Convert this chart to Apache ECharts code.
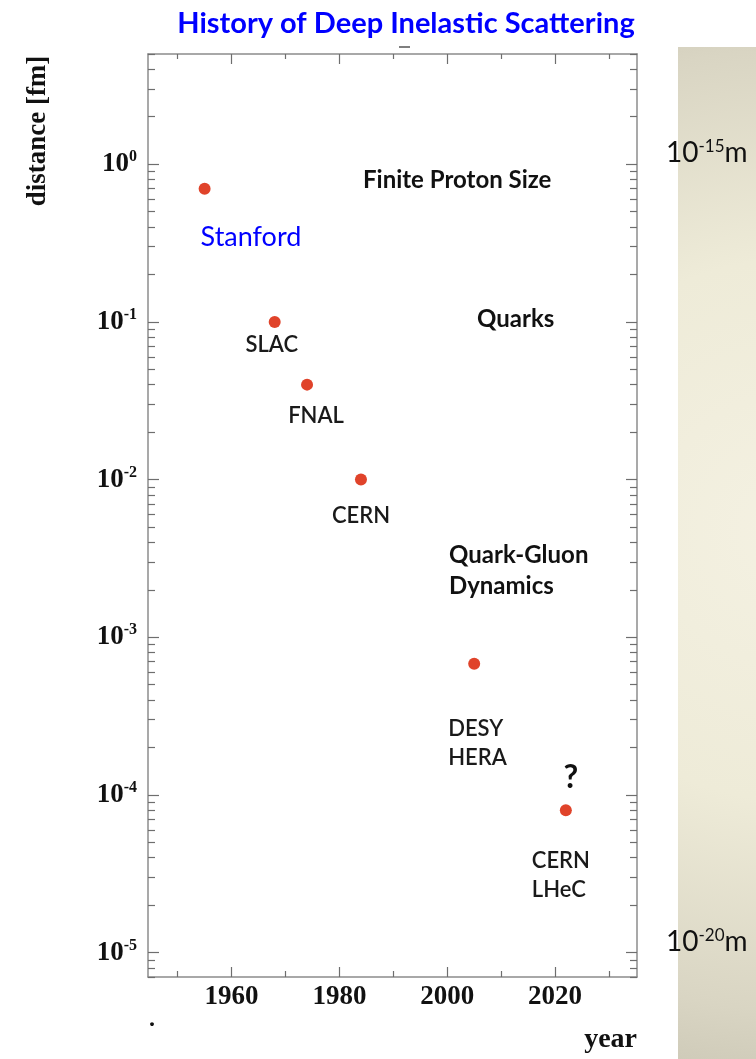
<!DOCTYPE html>
<html><head><meta charset="utf-8">
<script src="https://cdn.jsdelivr.net/npm/echarts@6/dist/echarts.min.js"></script>
<style>html,body{margin:0;padding:0;background:#fff;}#c{width:756px;height:1059px;}</style>
</head><body><div id="c"></div>
<script>
// ---- data ----
const labNames   = ['Stanford', 'SLAC', 'FNAL', 'CERN', 'DESY\nHERA', 'CERN\nLHeC'];
const years      = [1955, 1968, 1974, 1984, 2005, 2022];
const distances  = [0.7, 0.1, 0.04, 0.01, 6.8e-4, 8e-5];
const xMajorTicks = [1960, 1980, 2000, 2020];
const xMinorTicks = [1950, 1970, 1990, 2010, 2030];
const yDecades    = [1e-5, 1e-4, 1e-3, 1e-2, 1e-1, 1];
const yMinorTicks = [];
[1e-6, 1e-5, 1e-4, 1e-3, 1e-2, 1e-1, 1].forEach(function (d) {
  [2, 3, 4, 5, 6, 7, 8, 9].forEach(function (m) {
    const v = m * d;
    if (v >= 7e-6 && v <= 5) yMinorTicks.push(v);
  });
});
const regionNotes = ['Finite Proton Size', 'Quarks', 'Quark-Gluon\nDynamics'];
const titleText = 'History of Deep Inelastic Scattering';

// ---- layout / style ----
const SERIF = '"Liberation Serif", "DejaVu Serif", serif';
const SANS = 'Lato, "Open Sans", sans-serif';
const X_MIN = 1944.5, X_MAX = 2035.2, Y_MIN = 7e-6, Y_MAX = 5;
const lineStyle = { color: '#8c8c8c', width: 1.5 };
const tickStyle = { color: '#6e6e6e', width: 1.2 };

// label placement per point: [dx, dy, align]
const labelLayout = [
  [-4, 49, 'left'],
  [-3, 23, 'center'],
  [9, 31, 'center'],
  [0, 36, 'center'],
  [-26, 80, 'left'],
  [-34, 65, 'left']
];

function xAxisDef(pos, ticks, len, main) {
  return {
    type: 'value', position: pos, min: X_MIN, max: X_MAX, gridIndex: 0,
    splitLine: { show: false },
    axisLine: { show: main, onZero: false, lineStyle: lineStyle },
    axisTick: { show: true, inside: true, length: len, customValues: ticks, lineStyle: tickStyle },
    axisLabel: (main && pos === 'bottom') ? {
      show: true, customValues: xMajorTicks, margin: 7,
      formatter: function (v) { return String(Math.round(v)); },
      fontFamily: SERIF, fontWeight: 'bold', fontSize: 27, color: '#111'
    } : { show: false }
  };
}
function yAxisDef(pos, ticks, len, main) {
  return {
    type: 'log', logBase: 10, position: pos, min: Y_MIN, max: Y_MAX, gridIndex: 0,
    splitLine: { show: false },
    axisLine: { show: main, onZero: false, lineStyle: lineStyle },
    axisTick: { show: true, inside: true, length: len, customValues: ticks, lineStyle: tickStyle },
    axisLabel: (main && pos === 'left') ? {
      show: true, customValues: yDecades, margin: 11,
      formatter: function (v) { return '{b|10}{s|' + Math.round(Math.log10(v)) + '}'; },
      rich: {
        b: { fontFamily: SERIF, fontWeight: 'bold', fontSize: 27, color: '#111', lineHeight: 30 },
        s: { fontFamily: SERIF, fontWeight: 'bold', fontSize: 16, color: '#111', verticalAlign: 'top', lineHeight: 18 }
      }
    } : { show: false }
  };
}

const chart = echarts.init(document.getElementById('c'), null, { renderer: 'canvas' });
chart.setOption({
  backgroundColor: '#ffffff',
  animation: false,
  title: {
    text: titleText, left: 401, top: 4, textAlign: 'center',
    textStyle: { color: '#0000ff', fontFamily: SANS, fontWeight: 'bold', fontSize: 29 }
  },
  grid: { left: 148, top: 54, width: 489, height: 923 },
  xAxis: [
    xAxisDef('bottom', xMajorTicks, 10, true),
    xAxisDef('bottom', xMinorTicks, 6, false),
    xAxisDef('top', xMajorTicks, 10, true),
    xAxisDef('top', xMinorTicks, 5, false)
  ],
  yAxis: [
    yAxisDef('left', yDecades, 11, true),
    yAxisDef('left', yMinorTicks, 7, false),
    yAxisDef('right', yDecades, 11, true),
    yAxisDef('right', yMinorTicks, 7, false)
  ],
  series: [
    {
      type: 'scatter', xAxisIndex: 0, yAxisIndex: 0, symbolSize: 12,
      itemStyle: { color: '#e0432a', opacity: 1 },
      data: years.map(function (y, i) {
        const L = labelLayout[i];
        const isStanford = i === 0;
        return {
          value: [y, distances[i]],
          label: {
            show: true, position: 'inside', offset: [L[0], L[1]], align: L[2], verticalAlign: 'middle',
            formatter: labNames[i],
            fontFamily: SANS,
            fontWeight: isStanford ? 'normal' : 600,
            fontSize: isStanford ? 27 : 22,
            lineHeight: 29,
            color: isStanford ? '#0000ff' : '#1a1a1a'
          }
        };
      })
    },
    {
      type: 'scatter', xAxisIndex: 0, yAxisIndex: 0, symbolSize: 0, silent: true,
      itemStyle: { opacity: 1 },
      data: [[years[5], distances[5]]],
      label: {
        show: true, position: 'inside', offset: [5, -32], formatter: '?',
        fontFamily: SANS, fontWeight: 'bold', fontSize: 32, color: '#111'
      }
    }
  ],
  graphic: [
    {
      type: 'rect', z: 0, shape: { x: 678, y: 47, width: 78, height: 1012 },
      style: {
        fill: new echarts.graphic.RadialGradient(790, 530, 600, [
          { offset: 0, color: '#f4f1e2' },
          { offset: 0.45, color: '#eeebd8' },
          { offset: 0.8, color: '#d9d5c3' },
          { offset: 1, color: '#c6c2b0' }
        ], true)
      }
    },
    {
      type: 'line', z: 5, shape: { x1: 399, y1: 47, x2: 410, y2: 47 },
      style: { stroke: '#555', lineWidth: 1.5 }
    },
    {
      type: 'text', z: 5, x: 666, y: 153,
      style: {
        text: '{a|10}{s|-15}{a|m}', verticalAlign: 'middle',
        rich: {
          a: { fontFamily: SANS, fontSize: 28, fill: '#111', lineHeight: 30 },
          s: { fontFamily: SANS, fontSize: 17, fill: '#111', verticalAlign: 'top', lineHeight: 17 }
        }
      }
    },
    {
      type: 'text', z: 5, x: 666, y: 942,
      style: {
        text: '{a|10}{s|-20}{a|m}', verticalAlign: 'middle',
        rich: {
          a: { fontFamily: SANS, fontSize: 28, fill: '#111', lineHeight: 30 },
          s: { fontFamily: SANS, fontSize: 17, fill: '#111', verticalAlign: 'top', lineHeight: 17 }
        }
      }
    },
    {
      type: 'text', z: 5, x: 38, y: 131, rotation: Math.PI / 2,
      style: { text: 'distance [fm]', align: 'center', verticalAlign: 'middle',
        font: 'bold 27px ' + SERIF, fill: '#111' }
    },
    {
      type: 'text', z: 5, x: 637, y: 1040,
      style: { text: 'year', align: 'right', verticalAlign: 'middle',
        font: 'bold 28px ' + SERIF, fill: '#111' }
    },
    {
      type: 'text', z: 5, x: 152, y: 1020,
      style: { text: '.', align: 'center', verticalAlign: 'middle',
        font: 'bold 24px ' + SERIF, fill: '#111' }
    },
    {
      type: 'text', z: 5, x: 363, y: 180,
      style: { text: regionNotes[0], align: 'left', verticalAlign: 'middle',
        font: 'bold 24px ' + SANS, fill: '#111' }
    },
    {
      type: 'text', z: 5, x: 477, y: 319,
      style: { text: regionNotes[1], align: 'left', verticalAlign: 'middle',
        font: 'bold 24px ' + SANS, fill: '#111' }
    },
    {
      type: 'text', z: 5, x: 449, y: 571,
      style: { text: regionNotes[2], align: 'left', verticalAlign: 'middle', lineHeight: 31,
        font: 'bold 24px ' + SANS, fill: '#111' }
    }
  ]
});
</script>
</body></html>
